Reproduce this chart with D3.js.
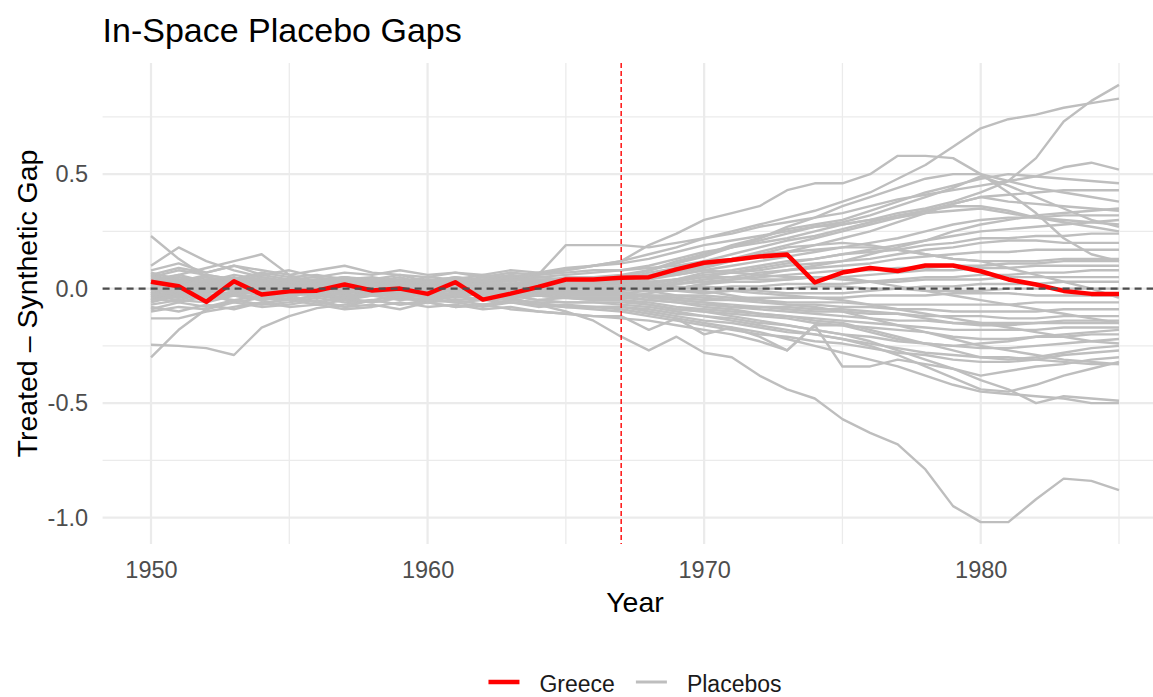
<!DOCTYPE html>
<html>
<head>
<meta charset="utf-8">
<script src="https://cdnjs.cloudflare.com/ajax/libs/d3/7.8.5/d3.min.js"></script>
<style>
    body { margin: 0; background: #ffffff; }
    text { font-family: "Liberation Sans", Arial, sans-serif; }
</style>
</head>
<body>
<div id="chart"></div>
<script>
var years = [1950,1951,1952,1953,1954,1955,1956,1957,1958,1959,1960,1961,1962,1963,1964,1965,1966,1967,
             1968,1969,1970,1971,1972,1973,1974,1975,1976,1977,1978,1979,1980,1981,1982,1983,1984,1985];
var xMajorTicks = [1950, 1960, 1970, 1980];
var xMinorTicks = [1955, 1965, 1975, 1985];
var yMajorTicks = [-1.0, -0.5, 0.0, 0.5];
var yMinorTicks = [-0.75, -0.25, 0.25, 0.75];
var treatmentYear = 1967;

const greece = [0.03,0.01,-0.058,0.032,-0.026,-0.012,-0.009,0.018,-0.008,0.0,-0.023,0.028,-0.048,-0.022,0.007,0.04,0.04,
    0.048,0.05,0.084,0.113,0.125,0.14,0.149,0.027,0.07,0.09,0.077,0.101,0.101,0.076,0.04,0.018,-0.01,-0.023,-0.023];

// placebo gaps, one per donor country
const placebo01 = [0.02,0.01,0.03,0.00,0.02,0.01,0.03,0.02,0.00,0.01,0.03,0.02,0.04,0.03,0.05,0.06,0.07,
    0.08,0.10,0.13,0.16,0.18,0.20,0.22,0.25,0.28,0.30,0.33,0.35,0.38,0.42,0.47,0.57,0.73,0.82,0.89];
const placebo02 = [-0.02,0.00,0.02,0.04,0.01,0.03,0.02,0.00,-0.01,0.02,0.01,0.03,0.05,0.04,0.06,0.08,0.10,
    0.12,0.15,0.18,0.22,0.25,0.28,0.31,0.34,0.38,0.42,0.48,0.54,0.62,0.70,0.74,0.76,0.79,0.81,0.83];
const placebo03 = [0.05,0.08,0.06,0.04,0.07,0.05,0.06,0.04,0.05,0.03,0.05,0.04,0.06,0.05,0.07,0.08,0.10,
    0.12,0.19,0.24,0.30,0.33,0.36,0.43,0.46,0.46,0.50,0.58,0.58,0.57,0.50,0.42,0.33,0.22,0.15,0.12];
const placebo04 = [0.01,-0.02,0.00,0.02,0.01,-0.01,0.01,0.03,0.02,0.00,0.02,0.01,0.03,0.04,0.06,0.19,0.19,
    0.19,0.18,0.20,0.22,0.24,0.27,0.29,0.31,0.33,0.36,0.39,0.41,0.43,0.45,0.47,0.49,0.53,0.55,0.52];
const placebo05 = [0.03,0.05,0.02,0.04,0.03,0.02,0.04,0.05,0.03,0.02,0.04,0.03,0.02,0.01,0.03,0.04,0.04,
    0.05,0.08,0.12,0.15,0.19,0.22,0.26,0.28,0.30,0.34,0.38,0.42,0.45,0.48,0.50,0.49,0.48,0.47,0.46];
const placebo06 = [-0.03,-0.01,0.01,0.00,-0.02,0.01,0.00,0.02,0.01,0.00,0.02,0.01,0.00,0.02,0.01,0.02,0.03,
    0.03,0.05,0.07,0.10,0.13,0.16,0.19,0.22,0.25,0.28,0.31,0.34,0.37,0.40,0.41,0.42,0.43,0.43,0.43];
const placebo07 = [0.04,0.02,0.05,0.03,0.06,0.04,0.03,0.05,0.04,0.06,0.03,0.05,0.04,0.06,0.05,0.04,0.05,
    0.06,0.08,0.11,0.14,0.18,0.22,0.27,0.31,0.36,0.40,0.44,0.48,0.50,0.50,0.47,0.44,0.42,0.40,0.38];
const placebo08 = [0.10,0.18,0.12,0.08,0.05,0.03,0.04,0.02,0.03,0.01,0.02,0.00,0.01,0.02,0.01,0.02,0.02,
    0.02,0.04,0.06,0.08,0.10,0.12,0.14,0.16,0.18,0.20,0.22,0.25,0.28,0.30,0.31,0.31,0.32,0.32,0.32];
const placebo09 = [-0.01,0.01,-0.02,0.00,0.02,0.01,-0.01,0.00,0.02,0.01,0.00,-0.01,0.01,0.00,0.02,0.00,0.01,
    0.00,0.01,0.03,0.05,0.07,0.09,0.11,0.13,0.15,0.17,0.19,0.21,0.23,0.25,0.26,0.27,0.28,0.29,0.30];
const placebo10 = [0.06,0.03,0.05,0.02,0.04,0.02,0.03,0.01,0.03,0.02,0.04,0.02,0.03,0.05,0.03,0.04,0.04,
    0.04,0.07,0.09,0.12,0.15,0.18,0.21,0.23,0.26,0.29,0.32,0.34,0.36,0.36,0.34,0.31,0.29,0.27,0.25];
const placebo11 = [0.02,0.00,0.01,-0.01,0.00,0.02,0.01,-0.01,0.00,0.01,-0.01,0.00,0.02,0.01,0.00,0.01,0.01,
    0.01,0.02,0.04,0.06,0.07,0.08,0.10,0.11,0.12,0.13,0.15,0.17,0.18,0.20,0.21,0.21,0.20,0.20,0.20];
const placebo12 = [0.03,0.06,0.09,0.12,0.15,0.06,0.02,0.00,-0.02,0.01,0.00,-0.01,0.01,0.00,-0.02,-0.01,-0.01,
    -0.01,0.00,0.02,0.04,0.05,0.07,0.08,0.09,0.10,0.11,0.13,0.14,0.15,0.16,0.16,0.17,0.17,0.17,0.17];
const placebo13 = [0.00,0.03,0.01,0.04,0.02,0.00,0.02,0.01,0.03,0.02,0.01,0.03,0.02,0.00,0.02,0.03,0.03,
    0.03,0.05,0.07,0.09,0.12,0.15,0.18,0.19,0.20,0.19,0.17,0.15,0.13,0.12,0.12,0.12,0.13,0.13,0.13];
const placebo14 = [-0.04,-0.02,0.00,-0.01,0.01,0.00,-0.02,0.00,0.01,-0.01,0.00,0.01,-0.01,0.00,0.01,0.00,0.00,
    0.00,0.01,0.02,0.03,0.04,0.05,0.06,0.07,0.08,0.08,0.09,0.09,0.10,0.10,0.11,0.11,0.12,0.12,0.12];
const placebo15 = [0.01,-0.01,-0.03,-0.02,0.00,-0.02,-0.01,0.01,0.00,-0.02,-0.01,0.00,-0.02,-0.01,0.00,-0.02,-0.02,
    -0.02,-0.01,0.00,0.02,0.03,0.03,0.04,0.05,0.05,0.06,0.07,0.08,0.08,0.09,0.09,0.10,0.10,0.10,0.10];
const placebo16 = [0.04,0.06,0.03,0.05,0.02,0.04,0.03,0.01,0.02,0.04,0.03,0.01,0.03,0.02,0.03,0.02,0.02,
    0.02,0.03,0.04,0.05,0.05,0.04,0.04,0.05,0.04,0.03,0.04,0.05,0.05,0.06,0.06,0.07,0.07,0.08,0.08];
const placebo17 = [-0.02,0.01,0.03,0.01,-0.01,0.01,0.02,0.00,0.02,0.01,0.03,0.01,0.00,0.02,0.01,0.00,0.01,
    0.01,0.01,0.00,0.00,0.01,0.01,0.02,0.02,0.02,0.03,0.03,0.04,0.04,0.04,0.05,0.05,0.05,0.05,0.05];
const placebo18 = [0.07,0.04,0.02,0.00,0.03,0.01,-0.01,0.01,-0.01,0.00,0.01,-0.02,0.00,-0.01,0.00,-0.01,-0.01,
    -0.01,0.00,0.00,0.01,0.00,-0.01,-0.02,-0.02,-0.02,-0.01,0.00,0.01,0.01,0.02,0.02,0.02,0.03,0.03,0.03];
const placebo19 = [-0.06,-0.03,-0.04,-0.01,-0.02,0.00,-0.01,0.01,0.00,-0.02,0.00,0.01,-0.01,0.01,0.00,0.01,0.00,
    0.00,-0.01,-0.01,-0.02,-0.01,0.00,0.00,0.01,0.01,0.00,0.00,-0.01,-0.01,-0.01,0.00,0.00,0.00,0.00,0.00];
const placebo20 = [0.23,0.13,0.05,0.02,-0.01,0.01,-0.02,0.00,-0.01,0.01,-0.02,-0.01,0.00,-0.02,-0.01,-0.02,-0.02,
    -0.02,-0.03,-0.03,-0.03,-0.04,-0.04,-0.04,-0.04,-0.04,-0.03,-0.03,-0.03,-0.02,-0.02,-0.02,-0.03,-0.03,-0.03,-0.03];
const placebo21 = [-0.05,-0.02,-0.04,-0.03,-0.05,-0.03,-0.01,-0.03,-0.02,-0.04,-0.02,-0.03,-0.01,-0.03,-0.02,-0.03,-0.03,
    -0.03,-0.03,-0.04,-0.05,-0.05,-0.05,-0.06,-0.06,-0.06,-0.07,-0.07,-0.07,-0.07,-0.07,-0.07,-0.06,-0.06,-0.06,-0.06];
const placebo22 = [0.02,0.04,0.01,0.03,0.00,0.02,0.00,-0.01,0.01,0.00,0.02,0.00,-0.01,0.01,0.00,0.01,0.00,
    0.00,-0.01,-0.03,-0.04,-0.05,-0.06,-0.07,-0.07,-0.08,-0.08,-0.09,-0.09,-0.10,-0.10,-0.10,-0.10,-0.09,-0.09,-0.09];
const placebo23 = [-0.07,-0.05,-0.06,-0.03,-0.04,-0.02,-0.03,-0.05,-0.03,-0.02,-0.04,-0.03,-0.05,-0.04,-0.03,-0.04,-0.04,
    -0.04,-0.05,-0.06,-0.07,-0.08,-0.08,-0.09,-0.10,-0.10,-0.11,-0.11,-0.12,-0.12,-0.12,-0.13,-0.13,-0.12,-0.12,-0.12];
const placebo24 = [0.00,-0.02,0.01,-0.01,-0.03,-0.01,0.00,-0.02,-0.01,0.00,-0.03,-0.02,0.00,-0.01,-0.02,-0.02,-0.02,
    -0.02,-0.03,-0.05,-0.06,-0.08,-0.09,-0.10,-0.11,-0.12,-0.13,-0.14,-0.14,-0.15,-0.15,-0.15,-0.15,-0.14,-0.14,-0.14];
const placebo25 = [-0.30,-0.18,-0.09,-0.05,-0.03,-0.05,-0.03,-0.04,-0.02,-0.04,-0.03,-0.05,-0.04,-0.03,-0.05,-0.04,-0.05,
    -0.05,-0.06,-0.08,-0.09,-0.10,-0.11,-0.12,-0.13,-0.14,-0.15,-0.16,-0.17,-0.18,-0.18,-0.18,-0.18,-0.17,-0.17,-0.17];
const placebo26 = [-0.03,-0.05,-0.02,-0.06,-0.04,-0.05,-0.07,-0.05,-0.06,-0.04,-0.06,-0.05,-0.07,-0.05,-0.06,-0.06,-0.06,
    -0.06,-0.07,-0.09,-0.10,-0.11,-0.12,-0.13,-0.15,-0.16,-0.17,-0.18,-0.19,-0.21,-0.22,-0.22,-0.21,-0.21,-0.20,-0.20];
const placebo27 = [-0.09,-0.06,-0.08,-0.05,-0.07,-0.06,-0.04,-0.06,-0.05,-0.07,-0.05,-0.06,-0.08,-0.06,-0.07,-0.08,-0.08,
    -0.08,-0.09,-0.11,-0.12,-0.13,-0.15,-0.16,-0.18,-0.20,-0.21,-0.23,-0.24,-0.25,-0.26,-0.26,-0.25,-0.24,-0.23,-0.22];
const placebo28 = [0.01,0.03,0.00,0.02,-0.01,0.01,0.00,-0.02,0.00,-0.01,0.01,-0.01,-0.02,0.00,-0.02,-0.03,-0.03,
    -0.03,-0.05,-0.06,-0.08,-0.09,-0.11,-0.12,-0.14,-0.15,-0.18,-0.21,-0.24,-0.27,-0.30,-0.31,-0.30,-0.28,-0.26,-0.25];
const placebo29 = [-0.245,-0.25,-0.26,-0.29,-0.17,-0.12,-0.085,-0.07,-0.05,-0.03,-0.02,0.00,-0.03,-0.05,-0.06,-0.08,-0.09,
    -0.10,-0.12,-0.14,-0.16,-0.18,-0.20,-0.21,-0.23,-0.24,-0.26,-0.28,-0.29,-0.31,-0.32,-0.32,-0.31,-0.29,-0.28,-0.27];
const placebo30 = [-0.04,-0.06,-0.03,-0.05,-0.07,-0.04,-0.06,-0.08,-0.05,-0.07,-0.06,-0.08,-0.07,-0.09,-0.10,-0.11,-0.12,
    -0.13,-0.14,-0.16,-0.18,-0.20,-0.23,-0.27,-0.16,-0.34,-0.34,-0.31,-0.33,-0.35,-0.38,-0.36,-0.34,-0.33,-0.31,-0.30];
const placebo31 = [0.03,0.00,0.02,-0.01,0.01,-0.02,0.00,-0.01,-0.03,-0.01,-0.02,-0.04,-0.02,-0.03,-0.05,-0.06,-0.06,
    -0.07,-0.08,-0.10,-0.12,-0.14,-0.16,-0.18,-0.20,-0.22,-0.25,-0.29,-0.34,-0.39,-0.44,-0.45,-0.42,-0.38,-0.35,-0.32];
const placebo32 = [-0.13,-0.13,-0.10,-0.08,-0.06,-0.05,-0.03,-0.04,-0.02,-0.03,-0.01,-0.03,-0.02,-0.04,-0.03,-0.04,-0.05,
    -0.05,-0.07,-0.09,-0.10,-0.12,-0.14,-0.16,-0.18,-0.20,-0.23,-0.27,-0.31,-0.35,-0.40,-0.44,-0.50,-0.47,-0.48,-0.49];
const placebo33 = [-0.02,-0.04,-0.01,-0.03,-0.05,-0.03,-0.02,-0.04,-0.06,-0.04,-0.05,-0.03,-0.05,-0.06,-0.07,-0.08,-0.08,
    -0.09,-0.11,-0.13,-0.15,-0.17,-0.19,-0.22,-0.25,-0.28,-0.31,-0.34,-0.38,-0.42,-0.45,-0.46,-0.47,-0.48,-0.50,-0.50];
const placebo34 = [-0.03,-0.01,-0.04,-0.02,-0.05,-0.03,-0.06,-0.04,-0.03,-0.05,-0.04,-0.06,-0.05,-0.04,-0.07,-0.10,-0.14,
    -0.21,-0.27,-0.21,-0.28,-0.30,-0.38,-0.44,-0.48,-0.57,-0.63,-0.68,-0.79,-0.95,-1.02,-1.02,-0.92,-0.83,-0.84,-0.88];
const placebo35 = [0.05,0.03,0.06,0.04,0.02,0.04,0.05,0.03,0.04,0.02,0.03,0.05,0.03,0.04,0.03,0.05,0.05,
    0.05,0.06,0.08,0.10,0.12,0.14,0.16,0.19,0.22,0.25,0.29,0.33,0.37,0.40,0.38,0.37,0.36,0.35,0.34];
const placebo36 = [-0.01,0.02,0.00,0.01,-0.01,0.00,0.02,0.01,-0.01,0.01,0.02,0.00,0.01,-0.01,0.00,0.01,0.00,
    0.00,0.02,0.04,0.07,0.08,0.10,0.12,0.13,0.15,0.16,0.17,0.19,0.20,0.22,0.22,0.23,0.23,0.24,0.24];
const placebo37 = [-0.02,-0.04,-0.01,-0.03,0.00,-0.02,-0.01,-0.03,-0.02,0.00,-0.01,-0.03,-0.02,-0.04,-0.03,-0.04,-0.04,
    -0.04,-0.02,0.00,0.02,0.04,0.06,0.08,0.10,0.12,0.15,0.18,0.21,0.25,0.28,0.30,0.32,0.33,0.34,0.35];
const placebo38 = [0.02,0.05,0.03,0.06,0.04,0.02,0.03,0.05,0.03,0.04,0.02,0.04,0.03,0.02,0.04,0.03,0.03,
    0.03,0.02,0.01,0.00,-0.01,-0.02,-0.03,-0.04,-0.05,-0.07,-0.09,-0.11,-0.13,-0.15,-0.17,-0.19,-0.21,-0.23,-0.24];
const placebo39 = [0.08,0.11,0.07,0.10,0.06,0.08,0.05,0.07,0.06,0.08,0.06,0.07,0.05,0.07,0.06,0.07,0.08,
    0.08,0.09,0.10,0.12,0.13,0.15,0.16,0.17,0.18,0.18,0.17,0.15,0.13,0.12,0.09,0.06,0.03,0.00,-0.04];
const placebo40 = [-0.05,-0.03,-0.05,-0.02,-0.04,-0.01,-0.03,-0.02,0.00,-0.02,0.01,0.00,-0.01,0.01,0.00,0.01,0.02,
    0.02,0.01,-0.01,-0.01,-0.03,-0.05,-0.07,-0.08,-0.10,-0.13,-0.16,-0.19,-0.22,-0.25,-0.27,-0.29,-0.31,-0.32,-0.33];
const placebo41 = [-0.08,-0.10,-0.07,-0.09,-0.06,-0.08,-0.07,-0.09,-0.08,-0.06,-0.08,-0.07,-0.09,-0.08,-0.10,-0.11,-0.12,
    -0.12,-0.18,-0.13,-0.20,-0.17,-0.21,-0.27,-0.16,-0.16,-0.19,-0.22,-0.24,-0.25,-0.24,-0.23,-0.21,-0.20,-0.19,-0.18];
const placebo42 = [0.03,0.01,0.04,0.02,0.05,0.03,0.02,0.04,0.03,0.05,0.02,0.04,0.03,0.05,0.04,0.04,0.04,
    0.04,0.05,0.06,0.08,0.07,0.06,0.05,0.05,0.05,0.03,0.01,-0.01,-0.03,-0.05,-0.07,-0.09,-0.11,-0.13,-0.15];
const placebo43 = [0.00,-0.03,-0.01,0.01,-0.02,0.00,0.01,-0.01,0.01,-0.01,0.00,0.02,0.00,0.01,0.02,0.03,0.04,
    0.05,0.08,0.11,0.15,0.18,0.21,0.24,0.27,0.29,0.32,0.36,0.40,0.44,0.49,0.45,0.40,0.35,0.30,0.27];
const placebo44 = [0.01,0.02,-0.01,0.01,0.00,-0.02,-0.01,0.00,-0.02,-0.01,-0.03,-0.02,-0.01,-0.03,-0.02,-0.02,-0.02,
    -0.02,-0.04,-0.05,-0.06,-0.07,-0.08,-0.08,-0.09,-0.09,-0.10,-0.11,-0.13,-0.15,-0.16,-0.16,-0.15,-0.15,-0.15,-0.15];
const placebo45 = [0.06,0.09,0.07,0.10,0.08,0.06,0.08,0.10,0.07,0.06,0.05,0.07,0.06,0.08,0.07,0.09,0.10,
    0.11,0.13,0.16,0.19,0.21,0.23,0.25,0.27,0.28,0.30,0.31,0.33,0.34,0.35,0.33,0.31,0.30,0.29,0.28];
const placebo46 = [-0.10,-0.08,-0.09,-0.06,-0.08,-0.07,-0.05,-0.08,-0.07,-0.09,-0.06,-0.08,-0.07,-0.06,-0.08,-0.07,-0.08,
    -0.08,-0.10,-0.12,-0.14,-0.15,-0.17,-0.19,-0.20,-0.22,-0.24,-0.26,-0.28,-0.29,-0.30,-0.30,-0.31,-0.32,-0.33,-0.33];

var placebos = [placebo01, placebo02, placebo03, placebo04, placebo05, placebo06, placebo07, placebo08, placebo09, placebo10,
    placebo11, placebo12, placebo13, placebo14, placebo15, placebo16, placebo17, placebo18, placebo19, placebo20,
    placebo21, placebo22, placebo23, placebo24, placebo25, placebo26, placebo27, placebo28, placebo29, placebo30,
    placebo31, placebo32, placebo33, placebo34, placebo35, placebo36, placebo37, placebo38, placebo39, placebo40,
    placebo41, placebo42, placebo43, placebo44, placebo45, placebo46];

var legendData = [
    {name: "Greece", color: "#ff0000", width: 4.5},
    {name: "Placebos", color: "#bebebe", width: 3}
];

var W = 1153, H = 697;
var panel = {left: 102.6, right: 1167.4, top: 63, bottom: 544};

var svg = d3.select("#chart")
    .append("svg")
    .attr("width", W)
    .attr("height", H);

// ggplot-style 5% expansion on both axes
var xExt = d3.extent(years);
var xPad = (xExt[1] - xExt[0]) * 0.05;
var xScale = d3.scaleLinear()
    .domain([xExt[0] - xPad, xExt[1] + xPad])
    .range([panel.left, panel.right]);

var allVals = d3.merge(placebos.concat([greece]));
var yExt = d3.extent(allVals);
var yPad = (yExt[1] - yExt[0]) * 0.05;
const yScale = d3.scaleLinear()
    .domain([yExt[0] - yPad, yExt[1] + yPad])
    .range([panel.bottom, panel.top]);

// grid
var grid = svg.append("g");
grid.selectAll(".xminor")
    .data(xMinorTicks)
    .enter().append("line")
    .attr("x1", function(d) { return xScale(d) })
    .attr("x2", function(d) { return xScale(d) })
    .attr("y1", panel.top)
    .attr("y2", panel.bottom)
    .attr("stroke", "#ebebeb")
    .attr("stroke-width", 1.3);
grid.selectAll(".yminor")
    .data(yMinorTicks)
    .enter().append("line")
    .attr("x1", panel.left)
    .attr("x2", panel.right)
    .attr("y1", function(d) { return yScale(d) })
    .attr("y2", function(d) { return yScale(d) })
    .attr("stroke", "#ebebeb")
    .attr("stroke-width", 1.3);
grid.selectAll(".xmajor")
    .data(xMajorTicks)
    .enter().append("line")
    .attr("x1", function(d) { return xScale(d) })
    .attr("x2", function(d) { return xScale(d) })
    .attr("y1", panel.top)
    .attr("y2", panel.bottom)
    .attr("stroke", "#ebebeb")
    .attr("stroke-width", 2.2);
grid.selectAll(".ymajor")
    .data(yMajorTicks)
    .enter().append("line")
    .attr("x1", panel.left)
    .attr("x2", panel.right)
    .attr("y1", function(d) { return yScale(d) })
    .attr("y2", function(d) { return yScale(d) })
    .attr("stroke", "#ebebeb")
    .attr("stroke-width", 2.2);

const line = d3.line()
    .x(function(d, i) { return xScale(years[i]) })
    .y(function(d) { return yScale(d) });

svg.append("g")
    .selectAll("path")
    .data(placebos)
    .enter().append("path")
    .attr("fill", "none")
    .attr("stroke", "#bebebe")
    .attr("stroke-width", 2.4)
    .attr("stroke-linejoin", "round")
    .attr("d", line);

svg.append("path")
    .datum(greece)
    .attr("fill", "none")
    .attr("stroke", "#ff0000")
    .attr("stroke-width", 4.5)
    .attr("stroke-linejoin", "round")
    .attr("d", line);

// reference lines
svg.append("line")
    .attr("x1", panel.left)
    .attr("x2", panel.right)
    .attr("y1", yScale(0))
    .attr("y2", yScale(0))
    .attr("stroke", "#4d4d4d")
    .attr("stroke-width", 2.4)
    .attr("stroke-dasharray", "7,5");

svg.append("line")
    .attr("x1", xScale(treatmentYear))
    .attr("x2", xScale(treatmentYear))
    .attr("y1", panel.top)
    .attr("y2", panel.bottom)
    .attr("stroke", "#ff0000")
    .attr("stroke-width", 1.4)
    .attr("stroke-dasharray", "5,3");

// axes
var yAxis = svg.append("g")
    .attr("transform", "translate(" + panel.left + ",0)")
    .call(d3.axisLeft(yScale).tickValues(yMajorTicks).tickSize(0).tickPadding(14.5)
        .tickFormat(function(d) { return d.toFixed(1) }));
var xAxis = svg.append("g")
    .attr("transform", "translate(0," + panel.bottom + ")")
    .call(d3.axisBottom(xScale).tickValues(xMajorTicks).tickSize(0).tickPadding(17)
        .tickFormat(function(d) { return d }));
[yAxis, xAxis].forEach(function(ax) {
    ax.select(".domain").remove();
    ax.selectAll("text")
        .attr("fill", "#4d4d4d")
        .style("font-size", "23.5px")
        .style("font-family", "'Liberation Sans', Arial, sans-serif");
});

// titles
svg.append("text")
    .attr("x", panel.left)
    .attr("y", 42)
    .style("font-size", "34px")
    .attr("fill", "#000")
    .text("In-Space Placebo Gaps");

svg.append("text")
    .attr("x", (panel.left + panel.right) / 2)
    .attr("y", 612)
    .style("text-anchor", "middle")
    .style("font-size", "28.5px")
    .attr("fill", "#000")
    .text("Year");

svg.append("text")
    .attr("transform", "translate(37," + ((panel.top + panel.bottom) / 2) + ") rotate(-90)")
    .style("text-anchor", "middle")
    .style("font-size", "28.5px")
    .attr("fill", "#000")
    .text("Treated – Synthetic Gap");

// legend
var keyW = 31, keyGap = 20, itemGap = 21;
const legend = svg.append("g");
var items = legend.selectAll("g")
    .data(legendData)
    .enter().append("g");
items.append("line")
    .attr("x1", 0)
    .attr("x2", keyW)
    .attr("y1", 0)
    .attr("y2", 0)
    .attr("stroke", function(d) { return d.color })
    .attr("stroke-width", function(d) { return d.width });
items.append("text")
    .attr("x", keyW + keyGap)
    .attr("y", 10)
    .style("font-size", "23px")
    .attr("fill", "#1a1a1a")
    .text(function(d) { return d.name });

var offset = 0;
var widths = [];
items.each(function(d) {
    var tw = d3.select(this).select("text").node().getComputedTextLength();
    widths.push(tw);
});
var total = d3.sum(widths) + legendData.length * (keyW + keyGap) + itemGap * (legendData.length - 1);
var startX = (panel.left + panel.right) / 2 - total / 2;
items.attr("transform", function(d, i) {
    var tx = startX + offset;
    offset += keyW + keyGap + widths[i] + itemGap;
    return "translate(" + tx + ",682)";
});
</script>
</body>
</html>
